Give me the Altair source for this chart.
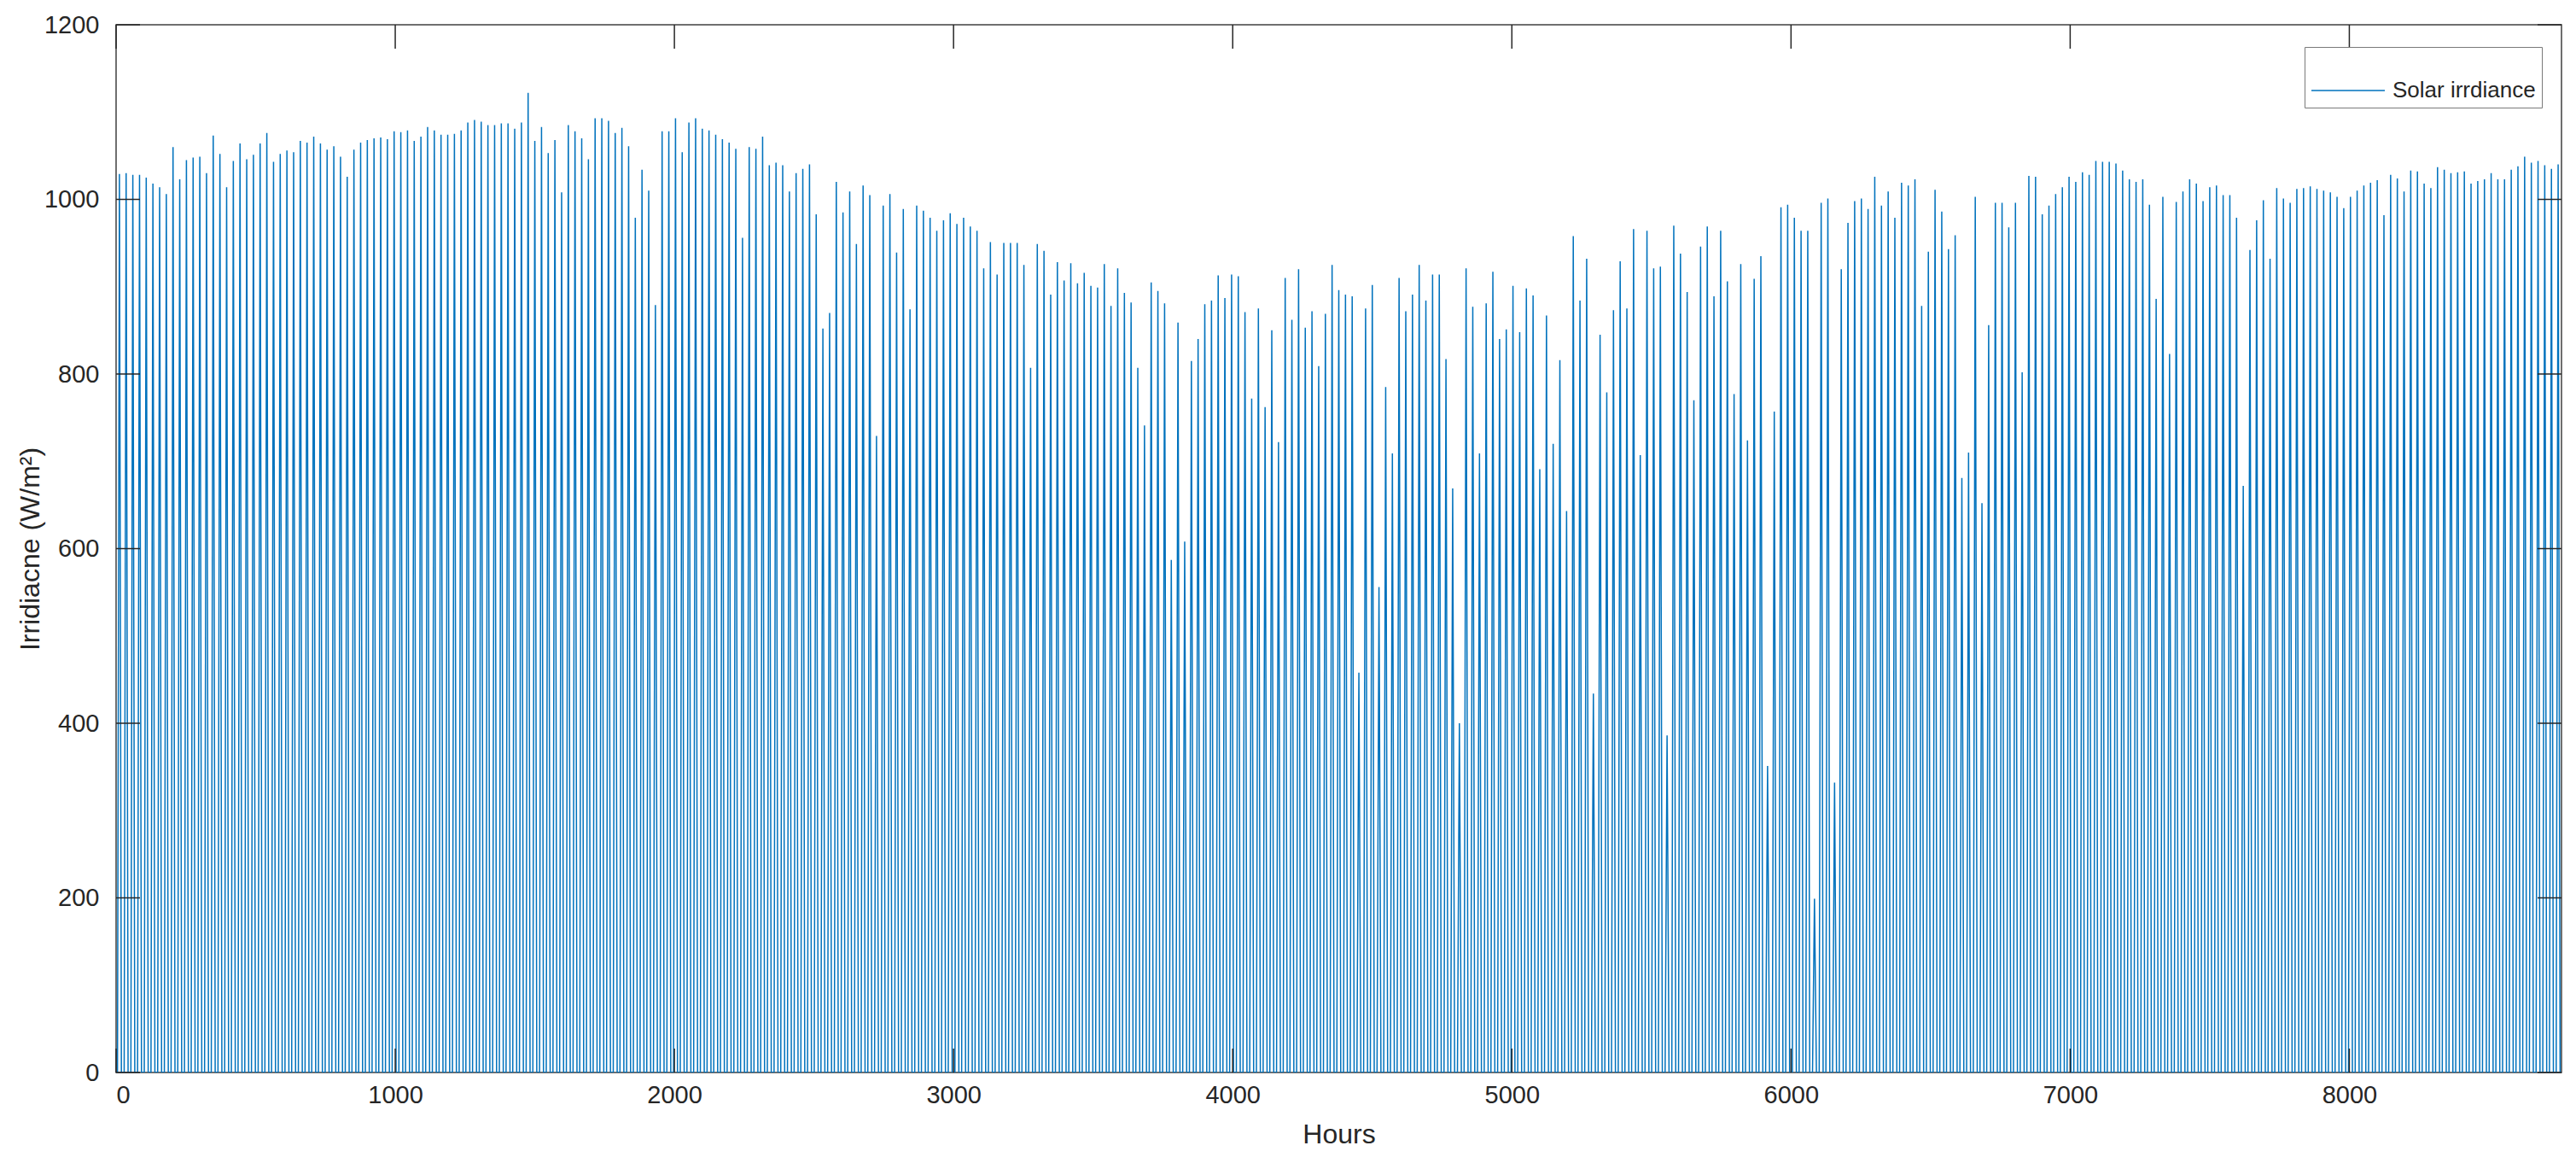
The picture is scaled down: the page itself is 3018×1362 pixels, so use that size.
import altair as alt
import pandas as pd

# Daily midday peaks of solar irradiance (W/m^2), day 0 .. day 364
peaks_jan_feb = [1029, 1030, 1028, 1028, 1025, 1018, 1014, 1006, 1060, 1023,
                 1045, 1048, 1049, 1030, 1073, 1052, 1014, 1044, 1064, 1046,
                 1051, 1064, 1076, 1043, 1052, 1056, 1054, 1067, 1065, 1072,
                 1064, 1057, 1061, 1049, 1026, 1057, 1065, 1068, 1070, 1071,
                 1069, 1078, 1077, 1079, 1067]
peaks_feb_mar = [1072, 1083, 1079, 1074, 1074, 1075, 1079, 1088, 1091, 1089,
                 1085, 1085, 1087, 1087, 1081, 1088, 1122, 1067, 1083, 1053,
                 1068, 1008, 1085, 1078, 1070, 1046, 1093, 1093, 1090, 1076,
                 1082, 1061, 979, 1034, 1010, 879, 1078, 1078, 1093, 1054,
                 1088, 1093, 1081, 1079, 1074, 1069]
peaks_apr_may = [1065, 1058, 956, 1060, 1058, 1072, 1039, 1042, 1039, 1009,
                 1030, 1035, 1040, 983, 852, 870, 1020, 985, 1009, 949,
                 1016, 1005, 729, 993, 1006, 939, 989, 874, 993, 987,
                 979, 964, 976, 984, 972, 979, 969, 964, 921, 951,
                 914, 950, 950, 950, 925, 807]
peaks_may_jun = [949, 941, 891, 928, 907, 927, 904, 916, 901, 899,
                 926, 878, 921, 893, 882, 807, 741, 905, 895, 881,
                 587, 859, 608, 815, 840, 880, 884, 913, 887, 914,
                 912, 871, 772, 875, 762, 850, 722, 910, 862, 920,
                 853, 872, 809, 869, 925]
peaks_jul_aug = [896, 891, 889, 458, 875, 902, 556, 785, 709, 910,
                 872, 891, 925, 884, 914, 914, 817, 669, 400, 921,
                 877, 709, 881, 917, 840, 851, 901, 848, 898, 890,
                 691, 867, 720, 816, 643, 958, 884, 932, 434, 845,
                 779, 873, 929, 875, 966, 707]
peaks_aug_sep = [964, 921, 923, 386, 970, 938, 894, 770, 946, 969,
                 889, 964, 906, 777, 926, 724, 909, 935, 351, 757,
                 991, 994, 979, 964, 964, 199, 996, 1001, 332, 920,
                 973, 998, 1001, 989, 1026, 993, 1009, 979, 1019, 1016,
                 1023, 878, 940, 1011, 986, 943]
peaks_oct_nov = [959, 681, 710, 1003, 652, 856, 996, 996, 968, 996,
                 802, 1027, 1026, 983, 993, 1006, 1014, 1026, 1020, 1031,
                 1028, 1044, 1043, 1043, 1041, 1033, 1023, 1020, 1023, 994,
                 886, 1003, 823, 997, 1009, 1023, 1018, 998, 1014, 1016,
                 1005, 1005, 979, 672, 942]
peaks_nov_dec = [976, 999, 932, 1013, 1001, 996, 1012, 1013, 1015, 1012,
                 1010, 1008, 1003, 990, 1003, 1010, 1016, 1019, 1022, 982,
                 1028, 1024, 1009, 1033, 1032, 1018, 1013, 1037, 1034, 1030,
                 1031, 1032, 1018, 1021, 1023, 1030, 1023, 1023, 1034, 1038,
                 1049, 1042, 1044, 1039, 1035, 1040]

# hour of the day at sunrise, noon and sunset, and the share of the day's peak reached there
day_hours = [5, 12, 19]
day_share = [0, 1, 0]

x_ticks = [0, 1000, 2000, 3000, 4000, 5000, 6000, 7000, 8000]
y_ticks = [0, 200, 400, 600, 800, 1000, 1200]
series_name = "Solar irrdiance"

peaks = (peaks_jan_feb + peaks_feb_mar + peaks_apr_may + peaks_may_jun +
         peaks_jul_aug + peaks_aug_sep + peaks_oct_nov + peaks_nov_dec)

rows = [{"Hours": 0, "Irr": 0, "series": series_name}]
for d, p in enumerate(peaks):
    for h, s in zip(day_hours, day_share):
        rows.append({"Hours": d * 24 + h, "Irr": p * s, "series": series_name})
rows.append({"Hours": 8760, "Irr": 0, "series": series_name})
df = pd.DataFrame(rows)

W, H = 2865, 1227
TICK = 28
FONT = "Liberation Sans"
AX = "#262626"

xscale = alt.Scale(domain=[0, 8760], nice=False, zero=False)
yscale = alt.Scale(domain=[0, 1200], nice=False)

line = alt.Chart(df).mark_line(strokeWidth=1.5, clip=True).encode(
    x=alt.X("Hours:Q", scale=xscale,
            axis=alt.Axis(values=x_ticks, format="d", title="Hours", ticks=False,
                          domain=False, grid=False, labelPadding=12,
                          labelFontSize=29, titleFontSize=32, titleY=72,
                          titleBaseline="middle", labelFont=FONT, titleFont=FONT,
                          labelColor=AX, titleColor=AX, titleFontWeight="normal")),
    y=alt.Y("Irr:Q", scale=yscale,
            axis=alt.Axis(values=y_ticks, format="d", title="Irridiacne (W/m²)",
                          ticks=False, domain=False, grid=False, labelPadding=20,
                          labelFontSize=29, titleFontSize=32, titleX=-101,
                          titleY=H / 2, titleBaseline="middle", titleAlign="center",
                          labelFont=FONT, titleFont=FONT, labelColor=AX,
                          titleColor=AX, titleFontWeight="normal")),
    color=alt.Color("series:N",
                    scale=alt.Scale(domain=[series_name], range=["#0072BD"]),
                    legend=alt.Legend(title=None, orient="none", legendX=2564,
                                      legendY=26, symbolType="stroke",
                                      symbolSize=7400, symbolStrokeWidth=1.5,
                                      labelFontSize=26, labelFont=FONT,
                                      labelLimit=400, labelColor=AX,
                                      strokeColor="#7a7a7a", fillColor="white",
                                      padding=7, labelOffset=8)),
    order=alt.Order("Hours:Q"),
)

xt = pd.DataFrame({"t": x_ticks})
yt = pd.DataFrame({"t": y_ticks})
tick_style = dict(color=AX, strokeWidth=1.5)
xb = alt.Chart(xt).mark_rule(**tick_style).encode(
    x=alt.X("t:Q", scale=xscale), y=alt.value(H), y2=alt.value(H - TICK))
xtop = alt.Chart(xt).mark_rule(**tick_style).encode(
    x=alt.X("t:Q", scale=xscale), y=alt.value(0), y2=alt.value(TICK))
yl = alt.Chart(yt).mark_rule(**tick_style).encode(
    y=alt.Y("t:Q", scale=yscale), x=alt.value(0), x2=alt.value(TICK))
yr = alt.Chart(yt).mark_rule(**tick_style).encode(
    y=alt.Y("t:Q", scale=yscale), x=alt.value(W), x2=alt.value(W - TICK))

chart = alt.layer(line, xb, xtop, yl, yr).properties(
    width=W, height=H,
    autosize=alt.AutoSizeParams(type="none"),
    padding={"left": 128, "top": 21, "right": 9, "bottom": 92},
    background="white",
).configure_view(stroke="#404040", strokeWidth=1.5)

chart.save("out.html", embed_options={"renderer": "svg", "actions": False})
